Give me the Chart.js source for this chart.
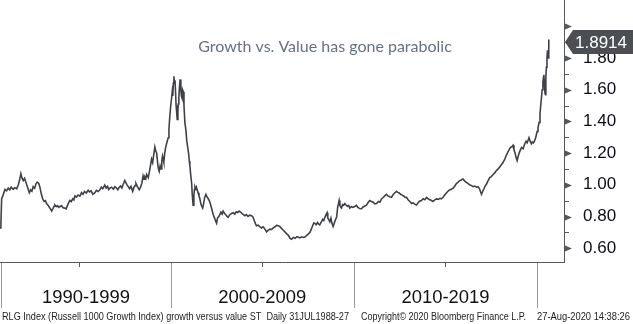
<!DOCTYPE html>
<html>
<head>
<meta charset="utf-8">
<script src="https://cdn.jsdelivr.net/npm/chart.js@4.4.0/dist/chart.umd.min.js"></script>
<style>
  html, body { margin: 0; padding: 0; background: #fff; }
  #wrap { width: 633px; height: 324px; position: relative; }
</style>
</head>
<body>
<div id="wrap"><canvas id="chart"></canvas></div>
<script>
// RLG growth/value ratio, decimal years
const dates = [
  1990.69, 1990.74, 1990.78, 1990.86, 1990.96, 1991.05, 1991.14, 1991.22, 1991.30, 1991.41,
  1991.50, 1991.60, 1991.69, 1991.76, 1991.83, 1991.88, 1991.96, 1992.03, 1992.10, 1992.18,
  1992.29, 1992.36, 1992.43, 1992.50, 1992.58, 1992.65, 1992.72, 1992.80, 1992.86, 1992.94,
  1993.02, 1993.10, 1993.17, 1993.23, 1993.32, 1993.40, 1993.46, 1993.51, 1993.58, 1993.64,
  1993.69, 1993.76, 1993.83, 1993.90, 1993.96, 1994.05, 1994.13, 1994.23, 1994.30, 1994.38,
  1994.45, 1994.51, 1994.58, 1994.66, 1994.72, 1994.78, 1994.86, 1994.95, 1995.05, 1995.14,
  1995.22, 1995.30, 1995.40, 1995.50, 1995.58, 1995.66, 1995.76, 1995.87, 1995.95, 1996.04,
  1996.14, 1996.22, 1996.30, 1996.41, 1996.48, 1996.56, 1996.62, 1996.69, 1996.78, 1996.88,
  1996.96, 1997.05, 1997.12, 1997.20, 1997.27, 1997.34, 1997.42, 1997.50, 1997.57, 1997.63,
  1997.69, 1997.76, 1997.84, 1997.93, 1998.00, 1998.06, 1998.11, 1998.18, 1998.24, 1998.29,
  1998.36, 1998.43, 1998.50, 1998.55, 1998.60, 1998.65, 1998.69, 1998.74, 1998.78, 1998.84,
  1998.90, 1998.96, 1999.02, 1999.08, 1999.14, 1999.19, 1999.24, 1999.30, 1999.34, 1999.38,
  1999.43, 1999.48, 1999.52, 1999.56, 1999.60, 1999.63, 1999.68, 1999.72, 1999.78, 1999.83,
  1999.87, 1999.91, 1999.95, 2000.00, 2000.04, 2000.09, 2000.12, 2000.15, 2000.18, 2000.21,
  2000.24, 2000.27, 2000.30, 2000.33, 2000.36, 2000.40, 2000.42, 2000.45, 2000.48, 2000.52,
  2000.56, 2000.59, 2000.62, 2000.65, 2000.69, 2000.73, 2000.78, 2000.84, 2000.88, 2000.93,
  2000.98, 2001.02, 2001.05, 2001.10, 2001.15, 2001.18, 2001.23, 2001.27, 2001.30, 2001.33,
  2001.38, 2001.41, 2001.45, 2001.50, 2001.55, 2001.60, 2001.65, 2001.70, 2001.75, 2001.80,
  2001.86, 2001.93, 2001.98, 2002.04, 2002.11, 2002.17, 2002.24, 2002.32, 2002.40, 2002.46,
  2002.51, 2002.56, 2002.63, 2002.69, 2002.75, 2002.81, 2002.87, 2002.94, 2003.02, 2003.08,
  2003.14, 2003.22, 2003.30, 2003.42, 2003.50, 2003.58, 2003.66, 2003.74, 2003.82, 2003.90,
  2003.98, 2004.05, 2004.14, 2004.22, 2004.32, 2004.42, 2004.50, 2004.58, 2004.64, 2004.69,
  2004.78, 2004.88, 2004.96, 2005.05, 2005.14, 2005.24, 2005.32, 2005.42, 2005.51, 2005.60,
  2005.70, 2005.80, 2005.87, 2005.96, 2006.05, 2006.14, 2006.24, 2006.34, 2006.44, 2006.52,
  2006.60, 2006.70, 2006.80, 2006.88, 2006.96, 2007.05, 2007.15, 2007.24, 2007.33, 2007.42,
  2007.52, 2007.60, 2007.68, 2007.76, 2007.82, 2007.87, 2007.94, 2008.02, 2008.08, 2008.14,
  2008.22, 2008.30, 2008.36, 2008.42, 2008.48, 2008.54, 2008.58, 2008.63, 2008.69, 2008.75,
  2008.80, 2008.87, 2008.94, 2009.00, 2009.06, 2009.12, 2009.16, 2009.20, 2009.24, 2009.28,
  2009.33, 2009.38, 2009.44, 2009.51, 2009.58, 2009.66, 2009.72, 2009.78, 2009.86, 2009.94,
  2010.05, 2010.14, 2010.22, 2010.32, 2010.42, 2010.50, 2010.58, 2010.69, 2010.78, 2010.87,
  2010.96, 2011.06, 2011.14, 2011.24, 2011.34, 2011.42, 2011.51, 2011.60, 2011.70, 2011.78,
  2011.86, 2011.96, 2012.06, 2012.14, 2012.24, 2012.33, 2012.40, 2012.48, 2012.55, 2012.64,
  2012.74, 2012.80, 2012.88, 2012.96, 2013.06, 2013.15, 2013.24, 2013.32, 2013.42, 2013.50,
  2013.58, 2013.69, 2013.78, 2013.88, 2013.97, 2014.06, 2014.15, 2014.24, 2014.32, 2014.42,
  2014.51, 2014.60, 2014.70, 2014.78, 2014.87, 2014.96, 2015.05, 2015.14, 2015.22, 2015.32,
  2015.42, 2015.50, 2015.58, 2015.69, 2015.76, 2015.86, 2015.96, 2016.04, 2016.14, 2016.24,
  2016.32, 2016.42, 2016.51, 2016.60, 2016.70, 2016.78, 2016.86, 2016.92, 2016.97, 2017.04,
  2017.10, 2017.15, 2017.24, 2017.32, 2017.42, 2017.50, 2017.60, 2017.69, 2017.78, 2017.88,
  2017.97, 2018.06, 2018.14, 2018.24, 2018.30, 2018.36, 2018.42, 2018.47, 2018.54, 2018.62,
  2018.69, 2018.74, 2018.80, 2018.86, 2018.91, 2018.96, 2019.02, 2019.09, 2019.16, 2019.24,
  2019.33, 2019.40, 2019.46, 2019.56, 2019.62, 2019.69, 2019.74, 2019.80, 2019.87, 2019.93,
  2020.00, 2020.05, 2020.11, 2020.16, 2020.20, 2020.24, 2020.28, 2020.32, 2020.37, 2020.40,
  2020.43, 2020.46, 2020.48, 2020.51, 2020.54, 2020.57, 2020.60, 2020.63, 2020.65
];
const ratio = [
  0.728, 0.760, 0.913, 0.935, 0.971, 0.962, 0.979, 0.968, 0.985, 0.971,
  0.982, 0.975, 1.000, 1.030, 1.070, 1.045, 1.027, 1.040, 1.017, 0.990,
  0.950, 0.968, 0.960, 0.988, 0.978, 1.005, 1.017, 1.010, 0.988, 0.945,
  0.911, 0.895, 0.900, 0.882, 0.870, 0.855, 0.845, 0.834, 0.850, 0.865,
  0.872, 0.862, 0.868, 0.858, 0.863, 0.868, 0.855, 0.853, 0.848, 0.872,
  0.890, 0.901, 0.895, 0.912, 0.905, 0.930, 0.922, 0.935, 0.928, 0.950,
  0.940, 0.958, 0.948, 0.965, 0.955, 0.962, 0.940, 0.950, 0.965, 0.958,
  0.969, 0.985, 0.975, 0.998, 0.980, 0.990, 0.970, 0.979, 0.985, 0.972,
  0.988, 0.979, 0.968, 0.985, 0.992, 0.980, 1.005, 1.027, 1.010, 0.998,
  0.988, 0.975, 0.990, 0.959, 0.985, 0.995, 1.008, 0.990, 0.978, 0.969,
  0.985, 1.010, 1.056, 1.035, 1.050, 1.040, 1.066, 1.055, 1.046, 1.080,
  1.120, 1.162, 1.140, 1.190, 1.239, 1.215, 1.200, 1.130, 1.100, 1.085,
  1.120, 1.100, 1.150, 1.181, 1.160, 1.143, 1.200, 1.230, 1.259, 1.280,
  1.297, 1.350, 1.420, 1.491, 1.530, 1.587, 1.560, 1.640, 1.684, 1.640,
  1.660, 1.587, 1.500, 1.460, 1.413, 1.470, 1.510, 1.549, 1.610, 1.665,
  1.600, 1.560, 1.549, 1.600, 1.587, 1.500, 1.394, 1.340, 1.280, 1.239,
  1.200, 1.150, 1.123, 1.060, 1.008, 0.940, 0.872, 0.930, 0.970, 0.988,
  0.975, 0.985, 0.969, 0.950, 0.930, 0.911, 0.880, 0.865, 0.853, 0.880,
  0.920, 0.940, 0.925, 0.915, 0.901, 0.880, 0.850, 0.814, 0.790, 0.770,
  0.757, 0.790, 0.800, 0.814, 0.828, 0.815, 0.834, 0.820, 0.810, 0.800,
  0.795, 0.810, 0.818, 0.824, 0.815, 0.830, 0.825, 0.834, 0.828, 0.818,
  0.812, 0.805, 0.812, 0.800, 0.808, 0.805, 0.795, 0.770, 0.752, 0.741,
  0.745, 0.735, 0.728, 0.735, 0.722, 0.703, 0.712, 0.720, 0.718, 0.728,
  0.735, 0.745, 0.741, 0.737, 0.725, 0.715, 0.703, 0.690, 0.680, 0.662,
  0.656, 0.668, 0.662, 0.672, 0.670, 0.665, 0.672, 0.668, 0.670, 0.680,
  0.690, 0.699, 0.720, 0.745, 0.760, 0.757, 0.748, 0.762, 0.752, 0.747,
  0.765, 0.782, 0.775, 0.795, 0.810, 0.824, 0.790, 0.780, 0.766, 0.790,
  0.760, 0.737, 0.760, 0.780, 0.795, 0.860, 0.880, 0.901, 0.870, 0.860,
  0.853, 0.875, 0.870, 0.882, 0.872, 0.865, 0.870, 0.853, 0.862, 0.858,
  0.863, 0.870, 0.858, 0.850, 0.849, 0.860, 0.865, 0.872, 0.888, 0.901,
  0.895, 0.890, 0.880, 0.882, 0.895, 0.890, 0.911, 0.920, 0.932, 0.940,
  0.930, 0.925, 0.921, 0.938, 0.950, 0.959, 0.952, 0.948, 0.940, 0.935,
  0.928, 0.920, 0.921, 0.905, 0.895, 0.882, 0.886, 0.878, 0.872, 0.885,
  0.896, 0.901, 0.912, 0.906, 0.921, 0.912, 0.905, 0.901, 0.895, 0.905,
  0.911, 0.908, 0.915, 0.912, 0.921, 0.935, 0.948, 0.959, 0.968, 0.972,
  0.979, 0.990, 1.005, 1.017, 1.025, 1.030, 1.037, 1.025, 1.015, 1.008,
  1.000, 0.995, 0.988, 0.992, 0.985, 0.988, 0.975, 0.955, 0.940, 0.962,
  0.975, 0.988, 1.005, 1.025, 1.046, 1.052, 1.065, 1.075, 1.090, 1.100,
  1.114, 1.128, 1.140, 1.162, 1.180, 1.195, 1.210, 1.220, 1.235, 1.240,
  1.249, 1.220, 1.200, 1.170, 1.152, 1.175, 1.200, 1.220, 1.235, 1.228,
  1.259, 1.275, 1.265, 1.297, 1.275, 1.259, 1.270, 1.265, 1.278, 1.300,
  1.336, 1.360, 1.394, 1.450, 1.500, 1.549, 1.600, 1.650, 1.694, 1.640,
  1.580, 1.568, 1.680, 1.742, 1.800, 1.848, 1.800, 1.916, 1.8914
];

const yTicks = [0.6, 0.7, 0.8, 0.9, 1.0, 1.1, 1.2, 1.3, 1.4, 1.5, 1.6, 1.7, 1.8, 1.9, 2.0];
const decades = ['1990-1999', '2000-2009', '2010-2019'];
const decadeBounds = [1990.78, 2000, 2010, 2020];
const midTicks = [1995, 2005, 2015];
const lastValue = 1.8914;
const chartTitle = 'Growth vs. Value has gone parabolic';
const footerParts = [
  'RLG Index (Russell 1000 Growth Index) growth versus value ST  Daily 31JUL1988-27',
  'Copyright\u00A9 2020 Bloomberg Finance L.P.',
  '27-Aug-2020 14:38:26'
];

const axisColor = '#55585c';

// axes, ticks, decade bands, title, last price tag and footer
const decor = {
  id: 'decor',
  afterDraw(chart) {
    const { ctx, chartArea: a, scales: { x, y } } = chart;
    ctx.save();

    ctx.strokeStyle = axisColor;
    ctx.lineWidth = 1;
    ctx.beginPath();
    ctx.moveTo(0, a.bottom + 0.5);
    ctx.lineTo(a.right + 1, a.bottom + 0.5);
    ctx.moveTo(a.right + 0.5, 0);
    ctx.lineTo(a.right + 0.5, a.bottom + 1);
    ctx.stroke();

    // right axis tick marks: arrows on labelled values, short dashes between
    ctx.fillStyle = axisColor;
    yTicks.forEach((v, i) => {
      const py = Math.round(y.getPixelForValue(v)) + 0.5;
      if (i % 2 === 0) {
        ctx.beginPath();
        ctx.moveTo(a.right + 1, py - 3);
        ctx.lineTo(a.right + 8, py);
        ctx.lineTo(a.right + 1, py + 3);
        ctx.closePath();
        ctx.fill();
      } else {
        ctx.beginPath();
        ctx.moveTo(a.right + 1, py);
        ctx.lineTo(a.right + 5, py);
        ctx.stroke();
      }
    });

    // decade separators and half-decade ticks below the plot
    ctx.strokeStyle = '#9a9a9a';
    decadeBounds.forEach((d, i) => {
      const px = i === 0 ? 1.5 : Math.round(x.getPixelForValue(d)) + 0.5;
      ctx.beginPath();
      ctx.moveTo(px, a.bottom + 1);
      ctx.lineTo(px, a.bottom + 46);
      ctx.stroke();
    });
    ctx.strokeStyle = axisColor;
    midTicks.forEach(d => {
      const px = Math.round(x.getPixelForValue(d)) + 0.5;
      ctx.beginPath();
      ctx.moveTo(px, a.bottom + 1);
      ctx.lineTo(px, a.bottom + 5);
      ctx.stroke();
    });

    ctx.fillStyle = '#111';
    ctx.font = '19px "Liberation Sans"';
    ctx.textAlign = 'center';
    ctx.textBaseline = 'middle';
    decades.forEach((label, i) => {
      const x0 = i === 0 ? 1.5 : x.getPixelForValue(decadeBounds[i]);
      const x1 = x.getPixelForValue(decadeBounds[i + 1]);
      ctx.fillText(label, (x0 + x1) / 2, a.bottom + 36, 88);
    });

    // title inside the plot
    ctx.fillStyle = '#66727f';
    ctx.font = '16px Lato';
    ctx.fillText(chartTitle, 325, 47, 257);

    // last value tag
    const ly = y.getPixelForValue(lastValue) - 1.5;
    ctx.fillStyle = '#4b4e53';
    ctx.beginPath();
    ctx.moveTo(a.right + 1, ly);
    ctx.lineTo(a.right + 9, ly - 12);
    ctx.lineTo(633, ly - 12);
    ctx.lineTo(633, ly + 12);
    ctx.lineTo(a.right + 9, ly + 12);
    ctx.closePath();
    ctx.fill();
    ctx.fillStyle = '#fff';
    ctx.font = '17px "Liberation Sans"';
    ctx.textAlign = 'left';
    ctx.fillText(lastValue.toFixed(4), a.right + 11, ly + 1);

    // footer
    ctx.fillStyle = '#222';
    ctx.font = '10px "Liberation Sans"';
    ctx.fillText(footerParts[0], 2, 317, 347);
    ctx.fillText(footerParts[1], 361, 317, 165);
    ctx.fillText(footerParts[2], 537, 317, 93);

    ctx.restore();
  }
};

const ctx = document.getElementById('chart').getContext('2d');
new Chart(ctx, {
  type: 'line',
  data: {
    datasets: [{
      data: dates.map((d, i) => ({ x: d, y: ratio[i] })),
      borderColor: '#3e4146',
      borderWidth: 1.6,
      pointRadius: 0,
      tension: 0
    }]
  },
  options: {
    responsive: true,
    maintainAspectRatio: false,
    animation: false,
    layout: { padding: { left: 0, top: 0, right: 0, bottom: 62 } },
    plugins: {
      legend: { display: false },
      tooltip: { enabled: false }
    },
    scales: {
      x: {
        type: 'linear',
        min: 1990.69,
        max: 2021.47,
        display: false
      },
      y: {
        position: 'right',
        min: 0.513,
        max: 2.032,
        afterBuildTicks: scale => { scale.ticks = yTicks.map(v => ({ value: v })); },
        afterFit: scale => { scale.width = 69; },
        grid: { display: false },
        border: { display: false },
        ticks: {
          autoSkip: false,
          padding: 11,
          color: '#0d0d16',
          font: { family: 'Liberation Sans', size: 17 },
          callback: v => (Math.round(v * 10) % 2 === 0 && v < 1.95) ? v.toFixed(2) : ''
        }
      }
    }
  },
  plugins: [decor]
});
</script>
</body>
</html>
